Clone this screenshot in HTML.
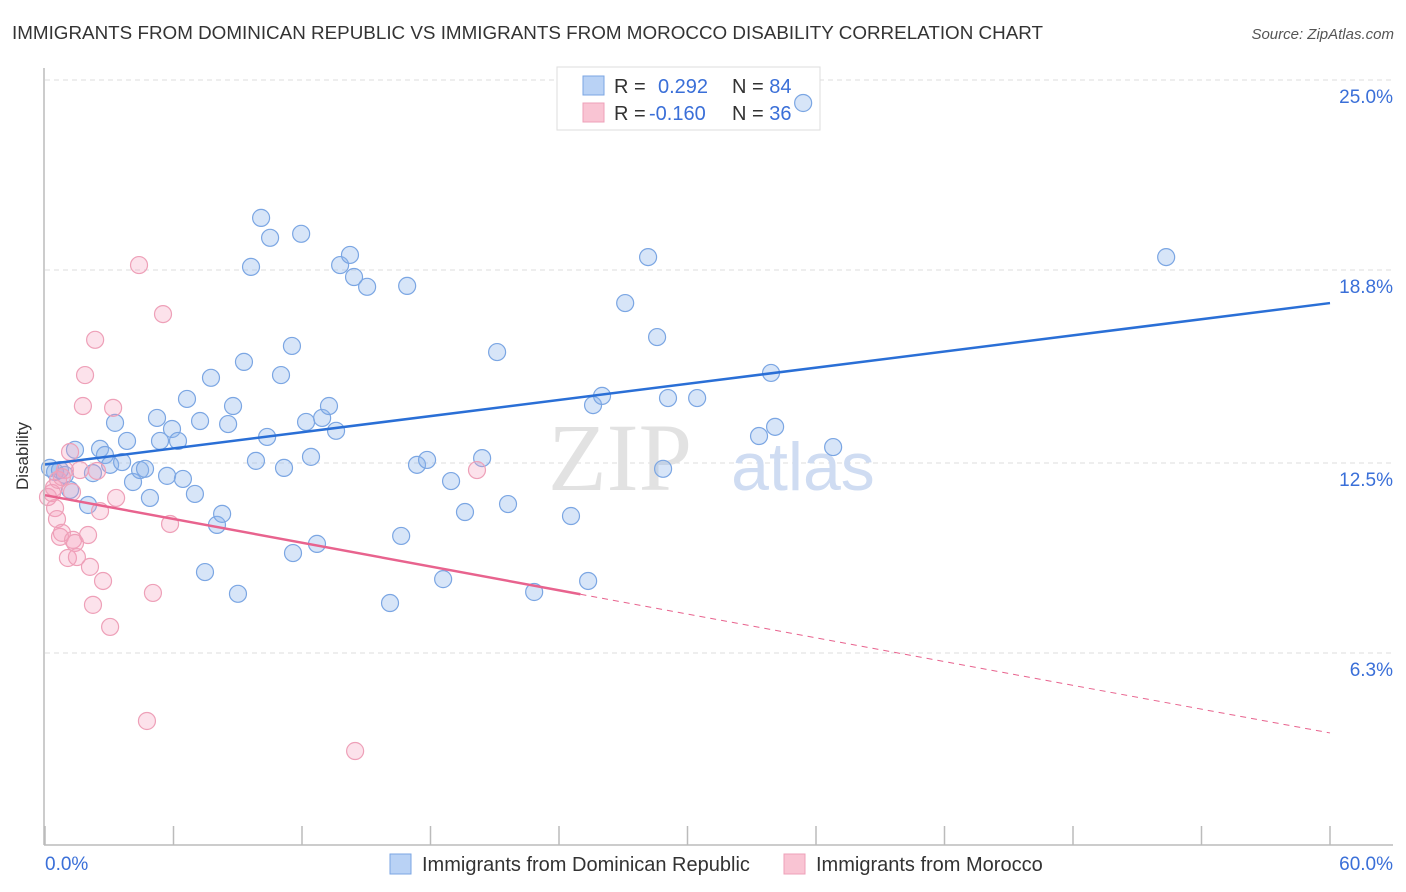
<!DOCTYPE html>
<html><head><meta charset="utf-8"><style>
body{margin:0;background:#fff;font-family:"Liberation Sans",sans-serif;}
svg{display:block}
</style></head><body>
<svg id="chart" width="1406" height="892">
<text x="12" y="39" font-size="18" fill="#333" textLength="1031" lengthAdjust="spacingAndGlyphs">IMMIGRANTS FROM DOMINICAN REPUBLIC VS IMMIGRANTS FROM MOROCCO DISABILITY CORRELATION CHART</text>
<text x="1394" y="39" font-size="15" fill="#555" font-style="italic" text-anchor="end">Source: ZipAtlas.com</text>
<g id="grid"></g>
<text x="620" y="490" font-size="96" fill="#e2e2e2" font-family="Liberation Serif,serif" text-anchor="middle">ZIP</text>
<text x="803" y="490" font-size="68" fill="#cfdcf2" text-anchor="middle">atlas</text>
<g>
<rect x="557" y="67" width="263" height="63" fill="#fff" stroke="#ddd"/>
<rect x="583" y="76" width="21" height="19" fill="#b9d2f5" stroke="#7ba6e3"/>
<rect x="583" y="103" width="21" height="19" fill="#f9c4d3" stroke="#eea0b8"/>
<text x="614" y="93" font-size="20" fill="#333">R = <tspan x="658" fill="#3a6fd8">0.292</tspan><tspan x="732" fill="#333">N = </tspan><tspan fill="#3a6fd8">84</tspan></text>
<text x="614" y="120" font-size="20" fill="#333">R = <tspan x="649" fill="#3a6fd8">-0.160</tspan><tspan x="732" fill="#333">N = </tspan><tspan fill="#3a6fd8">36</tspan></text>
</g>
<g id="points"></g>
<g id="trends"></g>
<line x1="44" y1="68" x2="44" y2="845" stroke="#bbb" stroke-width="1.5"/>
<line x1="44" y1="845" x2="1393" y2="845" stroke="#bbb" stroke-width="1.5"/>
<g id="xticks"></g>
<text x="28" y="456" font-size="17" fill="#333" text-anchor="middle" transform="rotate(-90 28 456)">Disability</text>
<text x="45" y="870" font-size="19" fill="#3a6fd8">0.0%</text>
<text x="1393" y="870" font-size="19" fill="#3a6fd8" text-anchor="end">60.0%</text>
<g>
<rect x="390" y="854" width="21" height="20" fill="#b9d2f5" stroke="#7ba6e3"/>
<text x="422" y="871" font-size="20" fill="#333">Immigrants from Dominican Republic</text>
<rect x="784" y="854" width="21" height="20" fill="#f9c4d3" stroke="#eea0b8"/>
<text x="816" y="871" font-size="20" fill="#333">Immigrants from Morocco</text>
</g>
</svg>
<script>
const yTicks=[25.0,18.8,12.5,6.3];
const yTickLabels=["25.0%","18.8%","12.5%","6.3%"];
const xTickValues=[0,6,12,18,24,30,36,42,48,54,60];
const blueX=[0.23,0.47,0.70,0.93,1.17,1.40,2.01,2.24,2.57,2.80,3.04,3.27,3.60,3.83,4.11,4.44,4.67,4.90,5.23,5.37,5.70,5.93,6.21,6.44,6.63,7.00,7.24,7.47,7.75,8.03,8.27,8.55,8.78,9.01,9.29,9.62,9.85,10.09,10.37,10.51,11.02,11.16,11.53,11.58,11.96,12.19,12.42,12.70,12.94,13.26,13.59,13.78,14.24,14.43,15.04,16.11,16.63,16.91,17.37,17.84,18.59,18.96,19.61,20.41,21.11,21.62,22.84,24.56,25.36,25.59,26.01,27.09,28.16,28.58,28.86,29.09,30.45,33.34,33.90,34.09,35.40,36.80,52.35];
const blueY=[12.34,12.21,12.27,12.11,11.62,12.93,11.13,12.17,12.96,12.76,12.44,13.81,12.53,13.22,11.88,12.27,12.31,11.36,13.97,13.22,12.08,13.61,13.22,11.98,14.59,11.49,13.87,8.94,15.28,10.48,10.84,13.77,14.36,8.23,15.80,18.90,12.57,20.50,13.35,19.85,15.37,12.34,16.32,9.56,19.98,13.84,12.70,9.86,13.97,14.36,13.55,18.96,19.29,18.57,18.25,7.93,10.12,18.28,12.44,12.60,8.71,11.91,10.90,12.66,16.12,11.16,8.29,10.77,8.65,14.39,14.69,17.72,19.22,16.61,12.31,14.62,14.62,13.38,15.44,13.68,24.25,13.02,19.22];
const pinkX=[0.14,0.33,0.47,0.56,0.70,0.79,0.93,1.07,1.17,1.31,1.40,1.49,1.63,1.77,1.87,2.01,2.10,2.24,2.34,2.43,2.57,2.71,3.04,3.18,3.32,4.39,4.76,5.04,5.51,5.84,14.48,20.17,0.42,0.61,0.79,1.26];
const pinkY=[11.39,11.52,11.03,10.67,10.09,10.22,12.27,9.40,12.86,9.99,9.89,9.43,12.27,14.36,15.37,10.15,9.11,7.87,16.52,12.24,10.93,8.65,7.15,14.30,11.36,18.96,4.08,8.26,17.36,10.51,3.10,12.27,11.69,11.95,12.04,11.55];
const blueTrend=[12.45,17.72];
const pinkTrend=[11.45,3.69];
const pinkSolidEnd=25;
const NS="http://www.w3.org/2000/svg";
const X0=45,X1=1330,Y0=846,PPU=30.64;
function xs(v){return X0+(v/60)*(X1-X0);}
function ys(v){return Y0-v*PPU;}
function mk(t,a,p){const e=document.createElementNS(NS,t);for(const k in a)e.setAttribute(k,a[k]);p.appendChild(e);return e;}
const grid=document.getElementById('grid');
yTicks.forEach((v,i)=>{
 const l=mk('line',{x1:45,x2:1393,y1:ys(v),y2:ys(v),stroke:'#ddd','stroke-dasharray':'5,4'},grid);
 
 
 const t=mk('text',{x:1393,y:ys(v)+23,'font-size':19,fill:'#3a6fd8','text-anchor':'end'},grid);
 t.textContent=yTickLabels[i];
 
 
});
const xt=document.getElementById('xticks');
xTickValues.forEach(v=>{
 const l=mk('line',{x1:xs(v),x2:xs(v),y1:826,y2:845,stroke:'#bbb','stroke-width':1.5},xt);
 
 
});
const pts=document.getElementById('points');
blueX.forEach((v,i)=>{
 const c=mk('circle',{cx:xs(v),cy:ys(blueY[i]),r:8.5,fill:'rgba(140,180,235,0.35)',stroke:'#7ba6e3','stroke-width':1.2},pts);
 
 
});
pinkX.forEach((v,i)=>{
 const c=mk('circle',{cx:xs(v),cy:ys(pinkY[i]),r:8.5,fill:'rgba(245,160,190,0.3)',stroke:'#eea0b8','stroke-width':1.2},pts);
 
 
});
const tr=document.getElementById('trends');
const bl=mk('line',{x1:xs(0),y1:ys(blueTrend[0]),x2:xs(60),y2:ys(blueTrend[1]),stroke:'#2a6fd6','stroke-width':2.5},tr);


const pm=pinkTrend[0]+(pinkTrend[1]-pinkTrend[0])*pinkSolidEnd/60;
const pl=mk('line',{x1:xs(0),y1:ys(pinkTrend[0]),x2:xs(pinkSolidEnd),y2:ys(pm),stroke:'#e8638e','stroke-width':2.5},tr);


const pd=mk('line',{x1:xs(pinkSolidEnd),y1:ys(pm),x2:xs(60),y2:ys(pinkTrend[1]),stroke:'#e8638e','stroke-width':1,'stroke-dasharray':'6,5'},tr);


</script>
</body></html>
